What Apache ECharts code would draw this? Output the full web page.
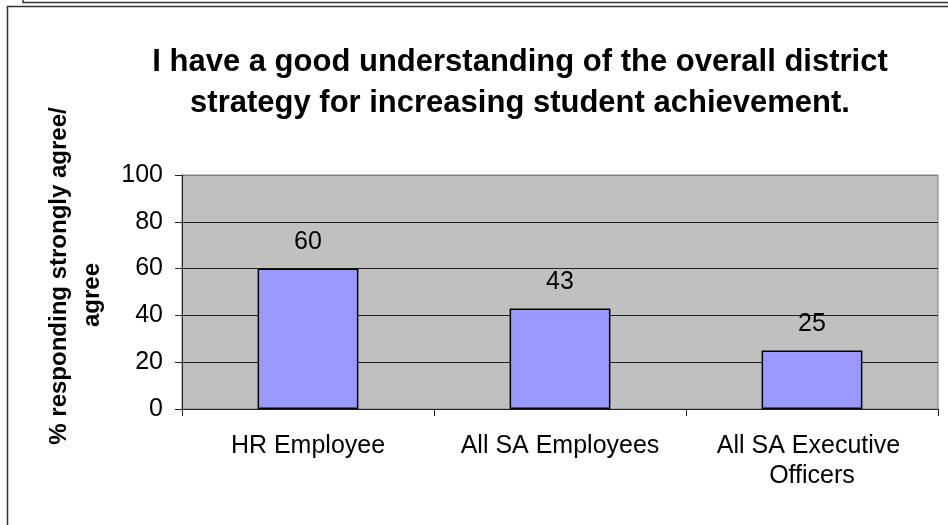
<!DOCTYPE html>
<html>
<head>
<meta charset="utf-8">
<script src="https://cdn.jsdelivr.net/npm/echarts@6/dist/echarts.min.js"></script>
<style>
  html, body { margin: 0; padding: 0; background: #fff; }
  #chart { width: 948px; height: 525px; }
</style>
</head>
<body>
<div id="chart"></div>
<script>
// Survey results: share responding "strongly agree" or "agree"
const categories = ['HR Employee', 'All SA Employees', 'All SA Executive Officers'];
const agreePercent = [60, 43, 25];
const yTicks = [0, 20, 40, 60, 80, 100];

const titleText = 'I have a good understanding of the overall district\nstrategy for increasing student achievement.';
const yNameLine1 = '% responding strongly agree/';
const yNameLine2 = 'agree';

const FONT = '"Liberation Sans", Arial, sans-serif';
const LABEL_SIZE = 25;

const chart = echarts.init(document.getElementById('chart'), null, { renderer: 'canvas' });

chart.setOption({
  backgroundColor: '#ffffff',
  animation: false,
  title: {
    text: titleText,
    left: 515,
    top: 37,
    textAlign: 'center',
    textStyle: {
      fontFamily: FONT,
      fontSize: 31,
      fontWeight: 'bold',
      color: '#000',
      lineHeight: 41
    }
  },
  grid: {
    left: 182,
    right: 10,
    top: 175,
    bottom: 116,
    show: true,
    backgroundColor: '#C0C0C0',
    borderColor: '#808080',
    borderWidth: 1
  },
  xAxis: {
    type: 'category',
    data: categories,
    axisLine: { lineStyle: { color: '#222', width: 1 } },
    axisTick: { show: true, length: 7, lineStyle: { color: '#222' } },
    axisLabel: {
      fontFamily: FONT,
      fontSize: LABEL_SIZE,
      color: '#000',
      margin: 22,
      lineHeight: 30,
      width: 235,
      overflow: 'break',
      interval: 0
    }
  },
  yAxis: {
    type: 'value',
    min: yTicks[0],
    max: yTicks[yTicks.length - 1],
    interval: 20,
    axisLine: { show: true, lineStyle: { color: '#222', width: 1 } },
    axisTick: { show: true, length: 7, lineStyle: { color: '#222' } },
    axisLabel: {
      fontFamily: FONT,
      fontSize: LABEL_SIZE,
      color: '#000',
      margin: 19
    },
    splitLine: {
      show: true,
      lineStyle: {
        color: ['#222', '#222', '#222', '#222', '#222', '#808080'],
        width: 1
      }
    }
  },
  graphic: [
    // outer frame of the chart sheet
    {
      type: 'polyline',
      shape: { points: [[23, 0], [23, 2.5], [960, 2.5]] },
      style: { stroke: '#333', lineWidth: 1.5, fill: null }
    },
    {
      type: 'polyline',
      shape: { points: [[7.5, 540], [7.5, 6.5], [960, 6.5]] },
      style: { stroke: '#333', lineWidth: 1.5, fill: null }
    },
    // rotated y-axis title, two lines
    {
      type: 'text',
      x: 59,
      y: 276,
      rotation: Math.PI / 2,
      style: {
        text: yNameLine1,
        fontFamily: FONT,
        fontSize: 24,
        fontWeight: 'bold',
        fill: '#000',
        textAlign: 'center',
        textVerticalAlign: 'middle'
      }
    },
    {
      type: 'text',
      x: 92,
      y: 295,
      rotation: Math.PI / 2,
      style: {
        text: yNameLine2,
        fontFamily: FONT,
        fontSize: 24,
        fontWeight: 'bold',
        fill: '#000',
        textAlign: 'center',
        textVerticalAlign: 'middle'
      }
    }
  ],
  series: [{
    type: 'bar',
    data: agreePercent,
    barWidth: '40%',
    itemStyle: {
      color: '#9999FF',
      borderColor: '#000',
      borderWidth: 1.5
    },
    label: {
      show: true,
      position: 'top',
      distance: 14,
      fontFamily: FONT,
      fontSize: LABEL_SIZE,
      color: '#000'
    }
  }]
});
</script>
</body>
</html>
